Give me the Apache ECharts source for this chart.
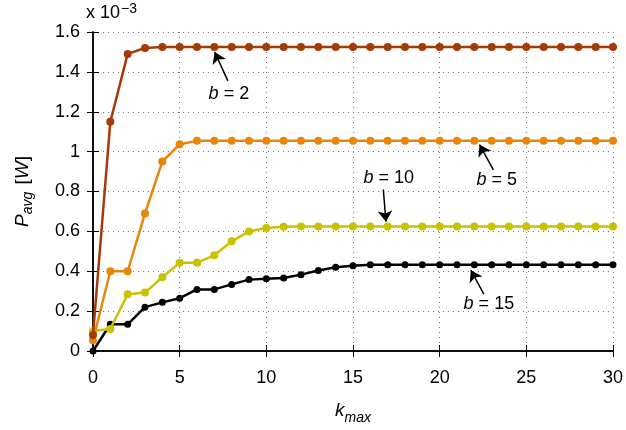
<!DOCTYPE html>
<html>
<head>
<meta charset="utf-8">
<script src="https://cdn.jsdelivr.net/npm/echarts@6/dist/echarts.min.js"></script>
<style>
  html, body { margin: 0; padding: 0; background: #fff; }
  #chart { width: 626px; height: 430px; }
</style>
</head>
<body>
<div id="chart"></div>
<script>
// k_max 0..30, P_avg in units of 1e-3 W
var kmax = [0, 1, 2, 3, 4, 5, 6, 7, 8, 9, 10, 11, 12, 13, 14, 15, 16, 17, 18, 19, 20, 21, 22, 23, 24, 25, 26, 27, 28, 29, 30];
var b2 = [0.08, 1.15, 1.49, 1.52, 1.525, 1.525, 1.525, 1.525, 1.525, 1.525, 1.525, 1.525, 1.525, 1.525, 1.525, 1.525,
  1.525, 1.525, 1.525, 1.525, 1.525, 1.525, 1.525, 1.525, 1.525, 1.525, 1.525, 1.525, 1.525, 1.525, 1.525];
var b5 = [0.054, 0.40, 0.40, 0.69, 0.95, 1.037, 1.054, 1.055, 1.055, 1.055, 1.055, 1.055, 1.055, 1.055, 1.055, 1.055,
  1.055, 1.055, 1.055, 1.055, 1.055, 1.055, 1.055, 1.055, 1.055, 1.055, 1.055, 1.055, 1.055, 1.055, 1.055];
var b10 = [0.10, 0.11, 0.285, 0.293, 0.37, 0.443, 0.443, 0.48, 0.55, 0.60, 0.617, 0.623, 0.625, 0.625, 0.625, 0.625,
  0.625, 0.625, 0.625, 0.625, 0.625, 0.625, 0.625, 0.625, 0.625, 0.625, 0.625, 0.625, 0.625, 0.625, 0.625];
var b15 = [0, 0.134, 0.134, 0.22, 0.244, 0.265, 0.309, 0.309, 0.334, 0.358, 0.362, 0.366, 0.383, 0.404, 0.42, 0.427,
  0.432, 0.432, 0.432, 0.432, 0.432, 0.432, 0.432, 0.432, 0.432, 0.432, 0.432, 0.432, 0.432, 0.432, 0.432];

var seriesNames = ['b = 2', 'b = 5', 'b = 10', 'b = 15'];
var seriesColors = ['#a33a08', '#e8860a', '#c8c200', '#000000'];

// annotations: [label value, text x, text y, arrow from x, from y, arrow to x, to y]
var annotations = [
  ['2', 7.84, 1.29, 7.78, 1.355, 7.02, 1.50],
  ['5', 23.3, 0.86, 23.1, 0.908, 22.3, 1.035],
  ['10', 17.06, 0.87, 16.75, 0.81, 16.9, 0.648],
  ['15', 22.84, 0.236, 22.55, 0.285, 21.8, 0.405]
];

var font = 'Liberation Sans, Arial, Helvetica, sans-serif';

function pairs(ys) {
  return kmax.map(function (k, i) { return [k, ys[i]]; });
}

var chart = echarts.init(document.getElementById('chart'), null, { renderer: 'canvas' });

var dataSets = [b2, b5, b10, b15];
var series = dataSets.map(function (ys, i) {
  return {
    name: seriesNames[i],
    type: 'line',
    data: pairs(ys),
    symbol: 'circle',
    symbolSize: i === 3 ? 7 : 8,
    lineStyle: { width: 2.5, color: seriesColors[i] },
    itemStyle: { color: seriesColors[i] },
    z: 10 - i,
    animation: false
  };
});

// arrows + annotation texts
series.push({
  type: 'scatter',
  symbolSize: 0,
  silent: true,
  animation: false,
  z: 20,
  itemStyle: { color: '#000', opacity: 1 },
  data: annotations.map(function (a) { return { value: [a[1], a[2]], name: a[0] }; }),
  label: {
    show: true,
    position: 'inside',
    formatter: function (p) { return '{i|b} = ' + p.name; },
    color: '#000',
    opacity: 1,
    textBorderWidth: 0,
    fontSize: 18,
    fontFamily: font,
    rich: {
      i: { fontStyle: 'italic', fontSize: 18, fontFamily: font, color: '#000', textBorderWidth: 0 }
    }
  },
  markLine: {
    silent: true,
    animation: false,
    z: 30,
    symbol: ['none', 'arrow'],
    symbolSize: 11,
    lineStyle: { color: '#000', width: 1.5, type: 'solid', opacity: 1 },
    itemStyle: { color: '#000' },
    label: { show: false },
    emphasis: { disabled: true },
    data: annotations.map(function (a) {
      return [{ coord: [a[3], a[4]] }, { coord: [a[5], a[6]] }];
    })
  }
});

var gridLine = { show: true, lineStyle: { color: '#777', type: [1, 4], width: 1 } };

var option = {
  backgroundColor: '#fff',
  animation: false,
  grid: { left: 93, right: 10, top: 32, bottom: 72 },
  xAxis: [{
    type: 'value',
    min: 0, max: 30, interval: 5,
    position: 'bottom',
    name: '{i|k}{s|max}',
    nameLocation: 'middle',
    nameGap: 50,
    nameTextStyle: {
      fontFamily: font, color: '#000',
      rich: {
        i: { fontStyle: 'italic', fontSize: 19, fontFamily: font, color: '#000', lineHeight: 24, verticalAlign: 'top' },
        s: { fontStyle: 'italic', fontSize: 14, fontFamily: font, color: '#000', lineHeight: 24, verticalAlign: 'bottom', padding: [8, 0, 0, 0] }
      }
    },
    axisLine: { lineStyle: { color: '#000', width: 1.5 } },
    axisTick: { inside: true, length: 6, lineStyle: { color: '#000', width: 1 } },
    axisLabel: { margin: 18, color: '#000', fontSize: 18, fontFamily: font },
    splitLine: gridLine
  }, {
    type: 'value',
    min: 0, max: 30, interval: 5,
    position: 'top',
    axisLine: { lineStyle: { color: '#000', width: 1.5 } },
    axisTick: { inside: true, length: 6, lineStyle: { color: '#000', width: 1 } },
    axisLabel: { show: false },
    splitLine: { show: false }
  }],
  yAxis: [{
    type: 'value',
    min: 0, max: 1.6, interval: 0.2,
    position: 'left',
    name: '{i|P}{s|avg} [{i|W}]',
    nameLocation: 'middle',
    nameRotate: 90,
    nameGap: 58,
    nameTextStyle: {
      fontFamily: font, color: '#000', fontSize: 19,
      rich: {
        i: { fontStyle: 'italic', fontSize: 19, fontFamily: font, color: '#000', lineHeight: 24 },
        s: { fontStyle: 'italic', fontSize: 14, fontFamily: font, color: '#000', lineHeight: 24, verticalAlign: 'bottom', padding: [10, 2, 0, 0] }
      }
    },
    axisLine: { lineStyle: { color: '#000', width: 1.5 } },
    axisTick: { inside: true, length: 6, lineStyle: { color: '#000', width: 1 } },
    axisLabel: {
      margin: 13, color: '#000', fontSize: 18, fontFamily: font,
      formatter: function (v) { return v === 0 ? '0' : (v === 1 ? '1' : v.toFixed(1)); }
    },
    splitLine: gridLine
  }, {
    type: 'value',
    min: 0, max: 1.6, interval: 0.2,
    position: 'right',
    axisLine: { lineStyle: { color: '#000', width: 1.5 } },
    axisTick: { inside: true, length: 6, lineStyle: { color: '#000', width: 1 } },
    axisLabel: { show: false },
    splitLine: { show: false }
  }],
  graphic: [{
    type: 'text',
    left: 86,
    top: 2,
    style: {
      text: 'x 10{sup|\u22123}',
      fill: '#000',
      font: '18px ' + font,
      rich: {
        sup: { fontSize: 14, fontFamily: font, fill: '#000', verticalAlign: 'top', padding: [0, 0, 8, 1] }
      }
    }
  }],
  series: series
};

chart.setOption(option);
</script>
</body>
</html>
